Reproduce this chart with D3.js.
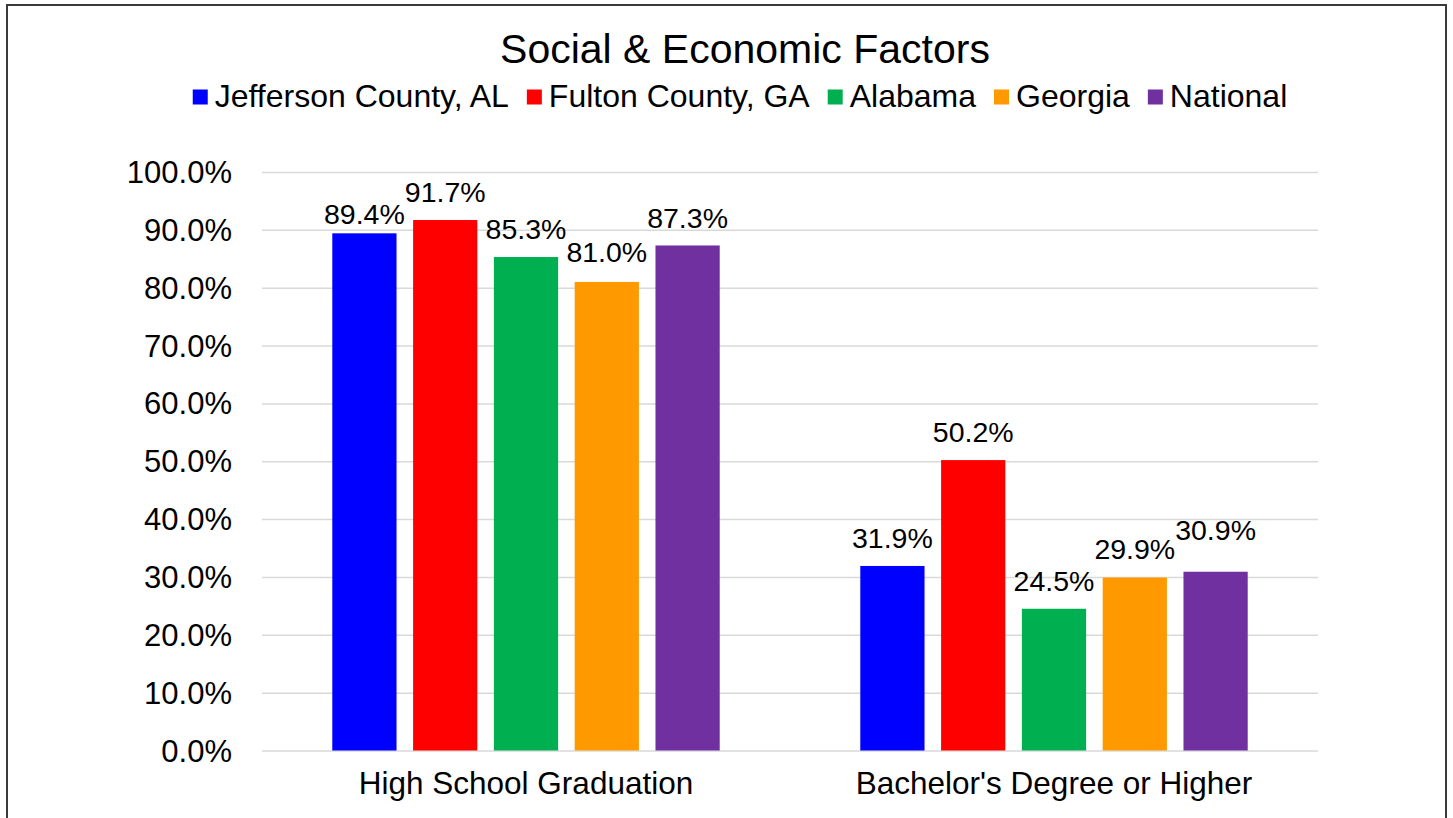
<!DOCTYPE html>
<html>
<head>
<meta charset="utf-8">
<script src="https://cdn.jsdelivr.net/npm/d3@7"></script>
<style>
  html, body { margin: 0; padding: 0; background: #fff; }
  svg { display: block; font-family: "Liberation Sans", Arial, sans-serif; }
</style>
</head>
<body>
<svg id="chart" width="1453" height="818"></svg>
<script>
const title = "Social & Economic Factors";
const categories = ["High School Graduation", "Bachelor's Degree or Higher"];
const seriesNames = ["Jefferson County, AL", "Fulton County, GA", "Alabama", "Georgia", "National"];
const seriesColors = ["#0000FF", "#FF0000", "#00B050", "#FF9900", "#7030A0"];
const jeffersonValues = [89.4, 31.9];
const fultonValues = [91.7, 50.2];
const alabamaValues = [85.3, 24.5];
const georgiaValues = [81.0, 29.9];
const nationalValues = [87.3, 30.9];
const yTicks = [0, 10, 20, 30, 40, 50, 60, 70, 80, 90, 100];
// manual label nudges (series x category), like the moved labels in the original
const labelLift = [[9.5, 18], [18, 18], [18, 18], [19.5, 18.5], [17, 32]];

const seriesValues = [jeffersonValues, fultonValues, alabamaValues, georgiaValues, nationalValues];

const svg = d3.select("#chart");
const plot = { left: 262, right: 1318, top: 172, bottom: 750.5 };

// frame
svg.append("rect").attr("x", 7).attr("y", 5).attr("width", 1439).attr("height", 840)
  .attr("fill", "#fff").attr("stroke", "#3a3a3a").attr("stroke-width", 2);

const y = d3.scaleLinear().domain([0, 100]).range([plot.bottom, plot.top]);
const x0 = d3.scaleBand().domain(categories).range([plot.left, plot.right]).padding(0);
const x1 = d3.scaleBand().domain(seriesNames).range([0, x0.bandwidth()])
  .paddingInner(0.205).paddingOuter(0.87);

// gridlines + tick labels
const yAxis = d3.axisLeft(y).tickValues(yTicks)
  .tickSize(-(plot.right - plot.left)).tickFormat(d => d3.format(".1f")(d) + "%");
const gy = svg.append("g").attr("transform", `translate(${plot.left},0)`).call(yAxis);
gy.select(".domain").remove();
gy.selectAll(".tick line").attr("stroke", "#d9d9d9").attr("stroke-width", 1.5);
gy.selectAll(".tick text").attr("x", -30).attr("dy", "0.34em")
  .attr("font-size", 31).attr("fill", "#000").attr("font-family", "Liberation Sans, Arial, sans-serif");

// bars + value labels
const groups = svg.append("g").selectAll("g").data(categories).join("g")
  .attr("transform", d => `translate(${x0(d)},0)`);
groups.each(function(cat, ci) {
  const g = d3.select(this);
  seriesNames.forEach((s, si) => {
    const v = seriesValues[si][ci];
    g.append("rect")
      .attr("x", x1(s)).attr("y", y(v))
      .attr("width", x1.bandwidth()).attr("height", y(0) - y(v))
      .attr("fill", seriesColors[si]);
    g.append("text")
      .attr("x", x1(s) + x1.bandwidth() / 2)
      .attr("y", y(v) - labelLift[si][ci])
      .attr("text-anchor", "middle").attr("font-size", 28.5).attr("fill", "#000")
      .text(d3.format(".1f")(v) + "%");
  });
});

// category labels
const xAxis = d3.axisBottom(x0).tickSize(0).tickPadding(0);
const gx = svg.append("g").attr("transform", `translate(0,${plot.bottom})`).call(xAxis);
gx.select(".domain").remove();
gx.selectAll(".tick text").attr("y", 43).attr("dy", 0).attr("font-size", 31.5).attr("fill", "#000")
  .attr("font-family", "Liberation Sans, Arial, sans-serif");

// title
svg.append("text").attr("x", 745).attr("y", 63).attr("text-anchor", "middle")
  .attr("font-size", 41).attr("fill", "#000").text(title);

// legend
const legend = svg.append("g");
const lgFont = 32, sw = 15, gapSwText = 7, gapItems = 18;
let cx = 0;
seriesNames.forEach((s, i) => {
  const item = legend.append("g").attr("transform", `translate(${cx},0)`);
  item.append("rect").attr("x", 0).attr("y", 89.5).attr("width", sw).attr("height", sw).attr("fill", seriesColors[i]);
  const t = item.append("text").attr("x", sw + gapSwText).attr("y", 107)
    .attr("font-size", lgFont).attr("fill", "#000").text(s);
  cx += sw + gapSwText + t.node().getComputedTextLength() + gapItems;
});
const totalW = cx - gapItems;
legend.attr("transform", `translate(${740 - totalW / 2},0)`);
</script>
</body>
</html>
